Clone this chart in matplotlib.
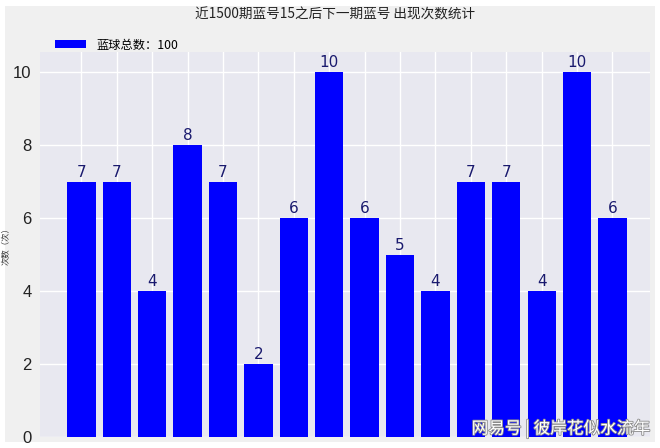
import matplotlib.pyplot as plt
import matplotlib.patheffects as pe
from matplotlib.patches import Rectangle

plt.rcParams["font.family"] = ["Noto Sans CJK SC", "DejaVu Sans"]

# data
blue_numbers = [str(n) for n in range(1, 17)]
counts = [7, 7, 4, 8, 7, 2, 6, 10, 6, 5, 4, 7, 7, 4, 10, 6]
title = "近1500期蓝号15之后下一期蓝号 出现次数统计"
legend_label = "蓝球总数：100"
y_label = "次数（次）"
watermark = "网易号 | 彼岸花似水流年"

fig = plt.figure(figsize=(6.6, 4.48), dpi=100, facecolor="white")
fig.patches.append(
    Rectangle((5 / 660, 6 / 448), 650 / 660, 436 / 448,
              transform=fig.transFigure, facecolor="#f0f0f0",
              edgecolor="none", zorder=-10)
)

ax = fig.add_axes([40 / 660, 11 / 448, 610 / 660, 385 / 448])
ax.set_facecolor("#e8e8f0")
ax.grid(True, color="white", linewidth=1.0)
ax.set_axisbelow(True)
for spine in ax.spines.values():
    spine.set_visible(False)

positions = list(range(1, len(counts) + 1))
ax.bar(positions, counts, width=0.8, color="#0000ff", label=legend_label)

for pos, value in zip(positions, counts):
    ax.text(pos, value + 0.05, str(value), ha="center", va="bottom",
            fontsize=11, color="#1a1a6e", family="DejaVu Sans")

ax.set_xlim(-0.17, 17.06)
ax.set_ylim(0, 10.55)
ax.set_xticks(positions)
ax.set_xticklabels(blue_numbers, fontsize=11, family="DejaVu Sans")
ax.set_yticks([0, 2, 4, 6, 8, 10])
ax.set_yticklabels(["0", "2", "4", "6", "8", "10"], fontsize=12,
                   family="Liberation Sans", color="#222222")
ax.tick_params(axis="both", length=0, pad=6)
ax.tick_params(axis="x", pad=8)

ax.set_ylabel(y_label, fontsize=6, color="#333333")
ax.yaxis.set_label_coords(-0.049, 0.5)

fig.text(0.507, 0.968, title, ha="center", va="center", fontsize=9.8, color="#222222")

ax.legend(loc="upper left", bbox_to_anchor=(0.012, 1.054), frameon=False,
          fontsize=8.8, handlelength=2.6, handleheight=0.6, borderaxespad=0.2)

fig.text(650 / 660, 19 / 448, watermark, ha="right", va="center",
         fontsize=12, color="white",
         path_effects=[pe.withStroke(linewidth=1.2, foreground="#8a8a8a")])

fig.savefig("out.png", dpi=100, facecolor=fig.get_facecolor())
